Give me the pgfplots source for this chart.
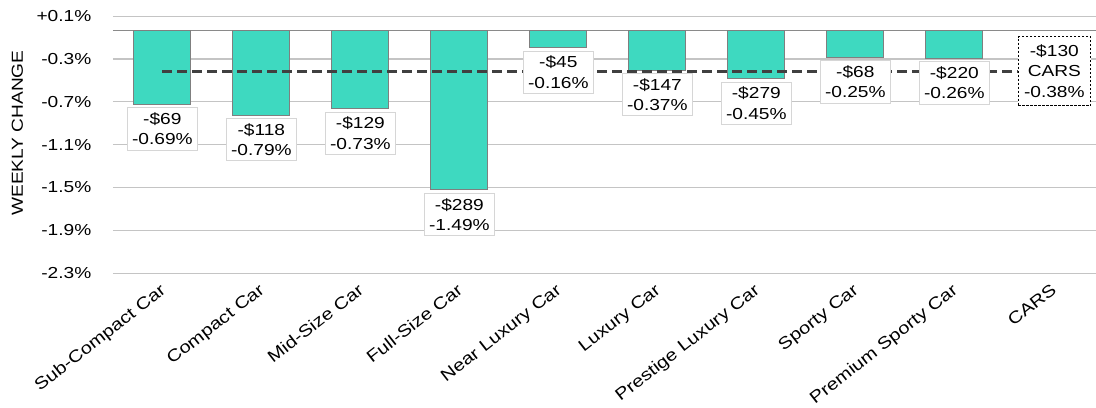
\documentclass[border=0pt]{standalone}
\usepackage{fontspec}
\setmainfont{Liberation Sans}[FakeStretch=1.2]
\usepackage{pgfplots}
\usepackage{pgfplotstable}
\pgfplotsset{compat=1.18}
\definecolor{barfill}{HTML}{3ED9C0}
\definecolor{baredge}{HTML}{7F7F7F}
\definecolor{gridc}{HTML}{C4C4C4}
\definecolor{zeroc}{HTML}{8A8A8A}
\definecolor{dashc}{HTML}{404040}
\definecolor{boxc}{HTML}{D6D6D6}
\pgfplotstableread{
x y dol pct
0 -0.69 69 -0.69
1 -0.79 118 -0.79
2 -0.73 129 -0.73
3 -1.49 289 -1.49
4 -0.16 45 -0.16
5 -0.37 147 -0.37
6 -0.45 279 -0.45
7 -0.25 68 -0.25
8 -0.26 220 -0.26
}\datatab
\begin{document}
\begin{tikzpicture}[x=1bp,y=1bp]
\begin{axis}[
  at={(114,125)}, anchor=south west,
  width=985bp, height=257bp, scale only axis,
  xmin=-0.5, xmax=9.45,
  ymin=-2.2667, ymax=0.1333,
  axis line style={draw=none},
  major tick length=0pt,
  xtick={0,...,9},
  xticklabels={Sub-Compact Car,Compact Car,Mid-Size Car,Full-Size Car,Near Luxury Car,Luxury Car,Prestige Luxury Car,Sporty Car,Premium Sporty Car,CARS},
  xticklabel style={font=\fontsize{16.8}{20}\selectfont, xshift=-3bp, yshift=-8bp, rotate=38, anchor=north east, inner sep=1bp},
  ytick={0.1333,-0.2667,-0.6667,-1.0667,-1.4667,-1.8667,-2.2667},
  yticklabels={+0.1\%,-0.3\%,-0.7\%,-1.1\%,-1.5\%,-1.9\%,-2.3\%},
  yticklabel style={xshift=-18bp},
  ymajorgrids, grid style={gridc, line width=1.2bp},
  extra y ticks={0}, extra y tick labels={},
  extra y tick style={major grid style={zeroc, line width=1.5bp}},
  font=\fontsize{16}{20.5}\selectfont,
  ylabel={WEEKLY CHANGE},
  ylabel style={at={(axis description cs:-0.097,0.545)}, anchor=center},
  clip=false,
]
\addplot[ybar, bar width=57bp, fill=barfill, draw=baredge, line width=1bp] table[x=x,y=y]{\datatab};
\addplot[dashc, line width=3bp, dash pattern=on 10bp off 5bp] coordinates {(0,-0.38) (9,-0.38)};
\addplot[draw=none, mark=none, point meta=explicit symbolic,
  visualization depends on={\thisrow{dol}\as\dol},
  nodes near coords={-\$\pgfmathprintnumber[fixed,precision=0,assume math mode=true]{\dol}\\\pgfplotspointmeta\%},
  every node near coord/.append style={anchor=north, yshift=-3bp, align=center, fill=white, draw=boxc, line width=0.8bp, inner xsep=4.5bp, inner ysep=5bp, font=\fontsize{16}{20.5}\selectfont}]
  table[x=x,y=y,meta=pct]{\datatab};
\addplot[draw=none, mark=none,
  nodes near coords={-\$130\\CARS\\-0.38\%},
  every node near coord/.append style={anchor=center, align=center, fill=white, draw=black, dash pattern=on 2.5bp off 1.5bp, line width=1bp, xshift=1bp, inner xsep=6bp, inner ysep=8bp, font=\fontsize{16}{20.5}\selectfont}]
  coordinates {(9,-0.38)};
\end{axis}
\pgfresetboundingbox
\path[use as bounding box] (0,0) rectangle (1096,407);
\end{tikzpicture}
\end{document}
